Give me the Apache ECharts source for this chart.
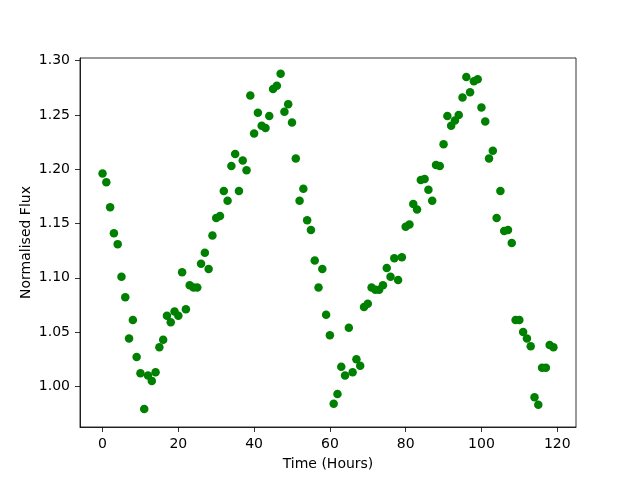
<!DOCTYPE html>
<html>
<head>
<meta charset="utf-8">
<script src="https://cdn.jsdelivr.net/npm/echarts@6/dist/echarts.min.js"></script>
<style>
  html, body { margin: 0; padding: 0; background: #fff; }
  #chart { width: 640px; height: 480px; }
</style>
</head>
<body>
<div id="chart"></div>
<script>
// time in hours (one reading per hour)
const hours = Array.from({ length: 120 }, (_, i) => i);

// normalised flux
const flux = [
  1.196, 1.188, 1.165, 1.141, 1.131, 1.101, 1.082, 1.044, 1.061, 1.027,
  1.012, 0.979, 1.010, 1.005, 1.013, 1.036, 1.043, 1.065, 1.059, 1.069,
  1.065, 1.105, 1.071, 1.093, 1.091, 1.091, 1.113, 1.123, 1.108, 1.139,
  1.155, 1.157, 1.180, 1.171, 1.203, 1.214, 1.180, 1.208, 1.199, 1.268,
  1.233, 1.252, 1.240, 1.238, 1.249, 1.274, 1.277, 1.288, 1.253, 1.260,
  1.243, 1.210, 1.171, 1.182, 1.153, 1.144, 1.116, 1.091, 1.108, 1.066,
  1.047, 0.984, 0.993, 1.018, 1.010, 1.054, 1.013, 1.025, 1.019, 1.073,
  1.076, 1.091, 1.089, 1.089, 1.093, 1.109, 1.101, 1.118, 1.098, 1.119,
  1.147, 1.149, 1.168, 1.163, 1.190, 1.191, 1.181, 1.171, 1.204, 1.203,
  1.223, 1.249, 1.240, 1.245, 1.250, 1.266, 1.285, 1.271, 1.281, 1.283,
  1.257, 1.244, 1.210, 1.217, 1.155, 1.180, 1.143, 1.144, 1.132, 1.061,
  1.061, 1.050, 1.044, 1.037, 0.990, 0.983, 1.017, 1.017, 1.038, 1.036
];

// tick labels
const xTicks = [0, 20, 40, 60, 80, 100, 120];
const yTicks = [1.00, 1.05, 1.10, 1.15, 1.20, 1.25, 1.30];

const chart = echarts.init(document.getElementById('chart'));

const font = 'DejaVu Sans';
const axisCommon = {
  axisLine: { show: true, onZero: false, lineStyle: { color: '#000', width: 0.8 } },
  axisTick: { show: true, inside: false, length: 5, lineStyle: { color: '#000', width: 0.8 } },
  splitLine: { show: false },
  nameMoveOverlap: false,
  nameTextStyle: { color: '#000', fontFamily: font, fontSize: 14 }
};

const option = {
  animation: false,
  backgroundColor: '#fff',
  grid: {
    left: 80, right: 64, top: 58, bottom: 53,
    show: true, borderColor: '#000', borderWidth: 0.8
  },
  xAxis: Object.assign({}, axisCommon, {
    type: 'value',
    min: -5.95,
    max: 124.95,
    name: 'Time (Hours)',
    nameLocation: 'middle',
    nameGap: 30,
    axisTick: Object.assign({}, axisCommon.axisTick, { customValues: xTicks }),
    axisLabel: {
      customValues: xTicks,
      margin: 10,
      color: '#000', fontFamily: font, fontSize: 14
    }
  }),
  yAxis: Object.assign({}, axisCommon, {
    type: 'value',
    min: 0.9625,
    max: 1.3025,
    name: 'Normalised Flux',
    nameLocation: 'middle',
    nameGap: 47,
    axisTick: Object.assign({}, axisCommon.axisTick, { customValues: yTicks }),
    axisLabel: {
      customValues: yTicks,
      margin: 10,
      color: '#000', fontFamily: font, fontSize: 14,
      formatter: v => v.toFixed(2)
    }
  }),
  series: [{
    type: 'scatter',
    symbol: 'circle',
    symbolSize: 8.5,
    itemStyle: { color: '#008000', opacity: 1 },
    data: hours.map((h, i) => [h, flux[i]])
  }]
};

chart.setOption(option);
</script>
</body>
</html>
